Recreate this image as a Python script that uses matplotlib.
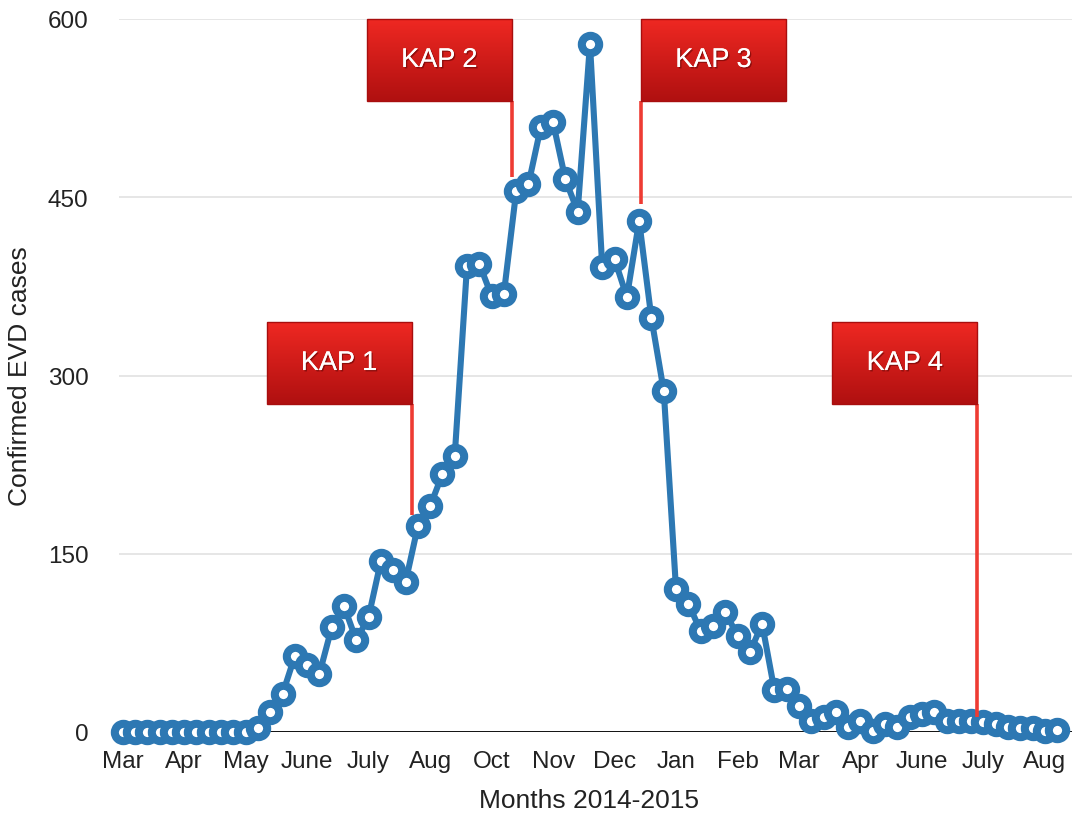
import matplotlib; matplotlib.use('Agg')
import numpy as np
from matplotlib import pyplot as plt
from matplotlib import patheffects

plt.rcParams.update({
    'font.family': ['Liberation Sans', 'DejaVu Sans'],
})

BLUE = '#2d78b3'
RED_LINE = '#ee3b33'

# Weekly confirmed cases, one point per week (77 weeks)
cases = [0, 0, 0, 0, 0, 0, 0, 0, 0, 0, 0,
         3, 17, 32, 64, 56, 49, 88, 106, 77, 97,
         144, 136, 126, 173, 190, 217, 232, 392, 394, 367,
         369, 455, 461, 509, 513, 465, 438, 579, 391, 398,
         366, 430, 348, 287, 120, 108, 85, 89, 101, 81,
         67, 91, 35, 36, 22, 9, 13, 17, 4, 9,
         1, 7, 4, 13, 15, 17, 9, 9, 9, 8,
         7, 4, 3, 3, 1, 2]

# Month labels, one every fifth week
month_labels = ['Mar', 'Apr', 'May', 'June', 'July', 'Aug', 'Oct', 'Nov',
                'Dec', 'Jan', 'Feb', 'Mar', 'Apr', 'June', 'July', 'Aug']
month_every = 5

# KAP survey markers: pole position (week index), pole foot, flag top
kap_labels = ['KAP 1', 'KAP 2', 'KAP 3', 'KAP 4']
kap_week = [23.5, 31.65, 42.15, 69.5]
kap_foot = [183, 467, 444, 13]
kap_flag_top = [345, 600, 600, 345]
kap_flag_side = ['left', 'left', 'right', 'left']

fig = plt.figure(figsize=(10.72, 8.2), dpi=100)
ax = fig.add_axes([119 / 1072, 87 / 820, 953 / 1072, 713 / 820])

weeks = np.arange(len(cases))
ax.plot(weeks, cases, color=BLUE, lw=4.4, marker='o', ms=12.5,
        mfc='white', mec=BLUE, mew=5.8, zorder=3, clip_on=False)

# Flags ----------------------------------------------------------------------
flag_w = 11.8
flag_h = 69
grad = np.linspace(0, 1, 64)[:, None]
top_c = np.array([238, 40, 34]) / 255
bot_c = np.array([176, 16, 16]) / 255
grad_img = (top_c * (1 - grad) + bot_c * grad)[:, None, :]

for label, x, foot, ftop, side in zip(kap_labels, kap_week, kap_foot,
                                      kap_flag_top, kap_flag_side):
    x0 = x - flag_w if side == 'left' else x
    x1 = x0 + flag_w
    y0 = ftop - flag_h
    ax.imshow(grad_img, extent=[x0, x1, y0, ftop], origin='upper',
              aspect='auto', zorder=5, clip_on=False)
    ax.add_patch(plt.Rectangle((x0, y0), flag_w, flag_h, fill=False,
                               ec='#a80e0e', lw=1, zorder=6, clip_on=False))
    ax.plot([x, x], [foot, y0], color=RED_LINE, lw=2.6, zorder=4,
            solid_capstyle='butt')
    ax.text((x0 + x1) / 2, y0 + flag_h / 2, label, color='white',
            fontsize=19.5, ha='center', va='center', zorder=7,
            path_effects=[patheffects.withSimplePatchShadow(
                offset=(1, -1), shadow_rgbFace='#500000', alpha=0.5),
                patheffects.Normal()])

ax.set_xlim(-0.3, 77.2)
ax.set_ylim(0, 600)

# Axes styling ---------------------------------------------------------------
ax.set_yticks([0, 150, 300, 450, 600])
ax.set_xticks(np.arange(len(month_labels)) * month_every)
ax.set_xticklabels(month_labels)
ax.tick_params(axis='both', length=0, labelsize=17.5, colors='#222222')
ax.tick_params(axis='y', pad=22)
ax.tick_params(axis='x', pad=13)
ax.grid(axis='y', color='#e4e4e4', lw=1.3, zorder=0)
ax.set_axisbelow(True)
for s in ax.spines.values():
    s.set_visible(False)
ax.axhline(0, color='#111111', lw=1.4, zorder=2)

ax.set_ylabel('Confirmed EVD cases', fontsize=19, color='#222222')
ax.yaxis.set_label_coords(-0.091, 0.5)
ax.set_xlabel('Months 2014-2015', fontsize=19, color='#222222')
ax.xaxis.set_label_coords(0.493, -0.078)

plt.savefig('out.png', dpi=100)
plt.close()
